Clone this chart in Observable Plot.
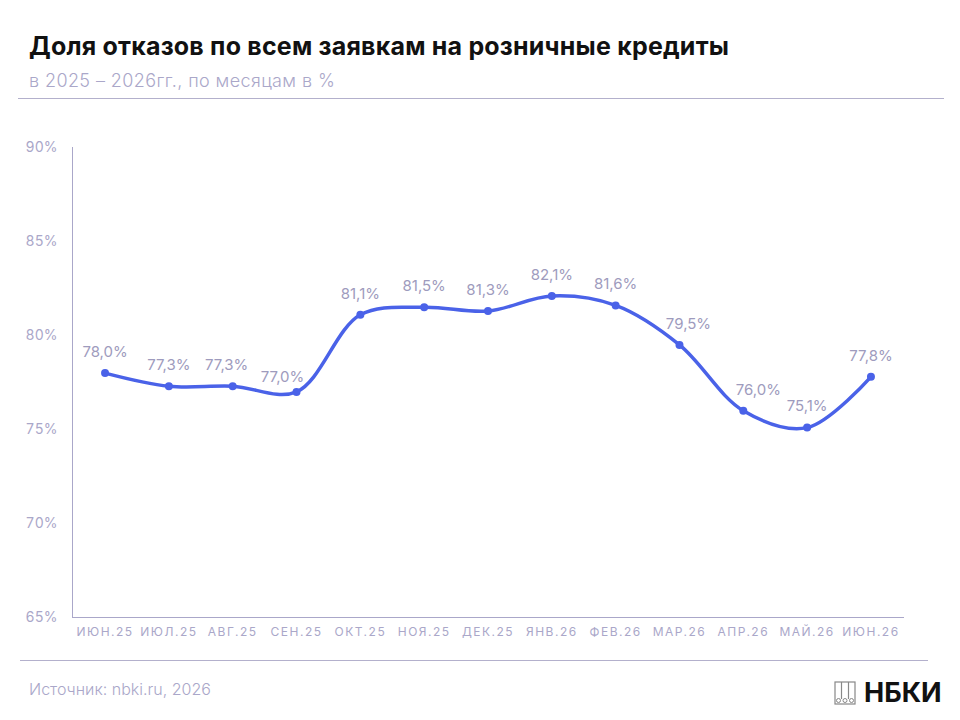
<!DOCTYPE html>
<html><head><meta charset="utf-8">
<script src="https://cdn.jsdelivr.net/npm/d3@7"></script>
<script src="https://cdn.jsdelivr.net/npm/@observablehq/plot@0.6"></script>
<style>
body{margin:0;background:#fff;font-family:Inter,"Noto Sans",sans-serif;}
#wrap{position:relative;width:960px;height:720px;overflow:hidden;}
#title{position:absolute;left:29px;top:31px;font-size:25px;font-weight:700;color:#111;white-space:nowrap;letter-spacing:0.2px;}
#sub{position:absolute;left:29px;top:70px;font-size:18px;font-weight:300;color:#aaa7c9;white-space:nowrap;letter-spacing:0.4px;}
.rule{position:absolute;height:1px;background:#b3b0cc;}
#chart{position:absolute;left:0;top:110px;}
#src{position:absolute;left:29px;top:679px;font-size:16px;color:#aaa7c9;font-weight:300;}
#logo{position:absolute;left:834px;top:676px;display:flex;align-items:center;gap:8px;font-size:27px;font-weight:700;color:#111;}
</style></head>
<body><div id="wrap">
<div id="title">Доля отказов по всем заявкам на розничные кредиты</div>
<div id="sub">в 2025 – 2026гг., по месяцам в %</div>
<div class="rule" style="left:18px;width:926px;top:98px"></div>
<div id="chart"></div>
<div class="rule" style="left:20px;width:908px;top:660px"></div>
<div id="src">Источник: nbki.ru, 2026</div>
<div id="logo"><svg width="22" height="24" viewBox="0 0 22 24"><rect x="1" y="1" width="20" height="22" fill="none" stroke="#888" stroke-width="1.2"/><line x1="7.5" y1="1" x2="7.5" y2="18" stroke="#888" stroke-width="1.2"/><line x1="14.5" y1="1" x2="14.5" y2="18" stroke="#888" stroke-width="1.2"/><circle cx="4.5" cy="19.5" r="2" fill="none" stroke="#888"/><circle cx="11" cy="19.5" r="2" fill="none" stroke="#888"/><circle cx="17.5" cy="19.5" r="2" fill="none" stroke="#888"/></svg><span>НБКИ</span></div>
</div>
<script>
const months = ["ИЮН.25","ИЮЛ.25","АВГ.25","СЕН.25","ОКТ.25","НОЯ.25","ДЕК.25","ЯНВ.26","ФЕВ.26","МАР.26","АПР.26","МАЙ.26","ИЮН.26"];
const values = [78.0,77.3,77.3,77.0,81.1,81.5,81.3,82.1,81.6,79.5,76.0,75.1,77.8];
const yTicks = [65,70,75,80,85,90];
// label nudges (styling only, pixels)
const labelNudge = {"АВГ.25": [-6, 0], "СЕН.25": [-14, 6], "МАР.26": [9, 0], "АПР.26": [15, 0]};

const data = months.map((m,i)=>({m, v: values[i]}));
const grey = "#aaa7c9";
const blue = "#4a62e8";
const fmt = v => v.toFixed(1).replace(".", ",") + "%";

const textMarks = data.map(d => {
  const [dx, dy] = labelNudge[d.m] || [0, 0];
  return Plot.text([d], {x: "m", y: "v", text: d => fmt(d.v), dx, dy: -21 + dy, fill: "#9e9bbd", fontSize: 15});
});

const chart = Plot.plot({
  width: 960, height: 530,
  marginLeft: 72, marginRight: 57, marginTop: 37, marginBottom: 23,
  style: {fontFamily: "Inter, 'Noto Sans', sans-serif", background: "transparent"},
  x: {type: "point", domain: months, padding: 0.51, round: false, label: null},
  y: {domain: [65, 90], label: null},
  marks: [
    Plot.axisY({ticks: yTicks, tickSize: 0, tickPadding: 15, tickFormat: d => d + "%", fill: grey, fontSize: 14, label: null}),
    Plot.axisX({tickSize: 0, tickPadding: 10, fill: grey, fontSize: 12, label: null}),
    Plot.frame({anchor: "left", stroke: grey, strokeOpacity: 1}),
    Plot.frame({anchor: "bottom", stroke: grey, strokeOpacity: 1}),
    Plot.line(data, {x: "m", y: "v", curve: "catmull-rom", stroke: blue, strokeWidth: 3.5}),
    Plot.dot(data, {x: "m", y: "v", r: 4, fill: blue}),
    ...textMarks
  ]
});
chart.querySelectorAll('[aria-label="x-axis tick label"] text').forEach(t => t.setAttribute("letter-spacing", "1.5"));
document.getElementById("chart").appendChild(chart);
</script>
</body></html>
